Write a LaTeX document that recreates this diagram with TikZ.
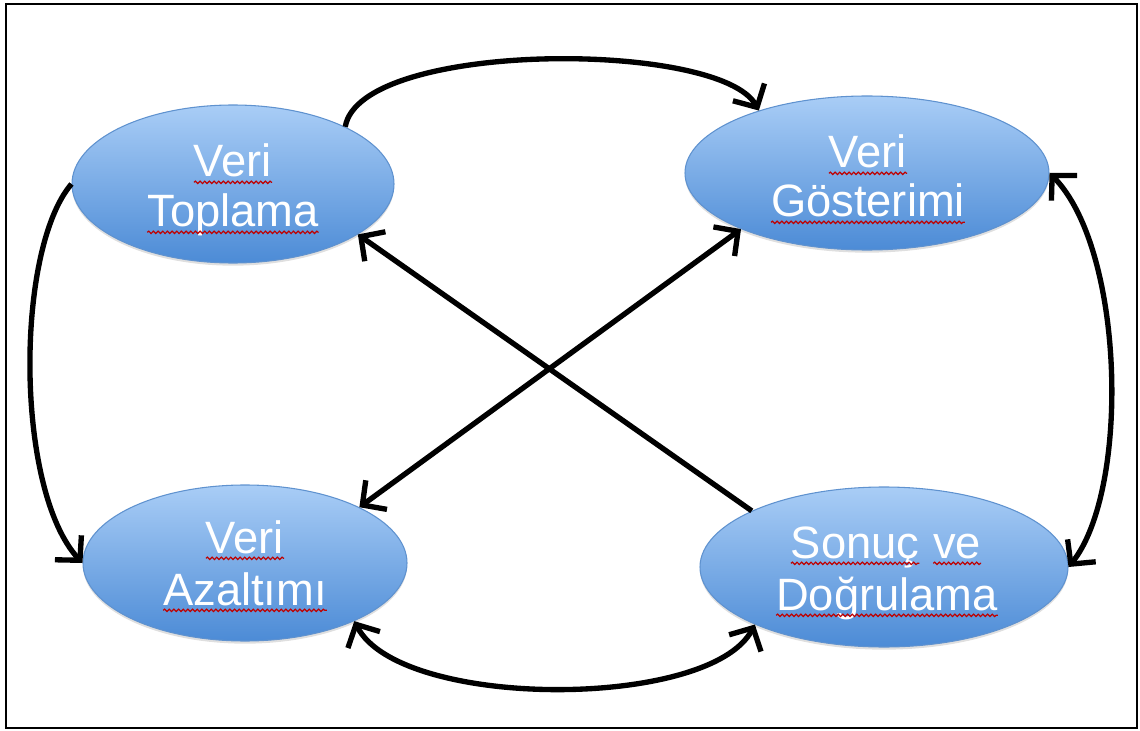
\documentclass[tikz,border=0pt]{standalone}
\usepackage{fontspec}
\setmainfont{Liberation Sans}
\usetikzlibrary{arrows.meta,shapes.geometric,decorations.pathmorphing,shadows}
\definecolor{ellTop}{HTML}{A9CDF6}
\definecolor{ellBot}{HTML}{4C8BD6}
\definecolor{ellLine}{HTML}{5F92CF}
\newcommand\sqw[1]{\tikz[baseline=(w.base)]{\node[inner sep=0pt,outer sep=0pt,text=white](w){#1};\draw[red!75!black,line width=0.9pt,decorate,decoration={snake,amplitude=0.9pt,segment length=3.5pt}]([yshift=-4pt]w.base west)--([yshift=-4pt]w.base east);}}
\tikzset{
  ell/.style={ellipse,draw=ellLine,line width=0.8pt,top color=ellTop,bottom color=ellBot,inner sep=0pt,
    drop shadow={shadow xshift=0pt,shadow yshift=-2pt,opacity=0.25,fill=black!50}},
  lbl/.style={anchor=base,inner sep=0pt,text=white,font=\fontsize{34}{40}\selectfont},
  conn/.style={line width=4pt,black},
  >={Straight Barb[length=13pt,width=27pt]}
}
\begin{document}
\begin{tikzpicture}[x=0.75pt,y=-0.75pt]
\useasboundingbox (0,0) rectangle (1140,731);
\draw[line width=1.5pt] (6,4) rectangle (1137,728);
% ellipses
\node[ell,minimum width=241.5pt,minimum height=118.5pt] (T) at (233,184) {};
\node[ell,minimum width=273pt,minimum height=115.5pt] (G) at (867,173) {};
\node[ell,minimum width=243pt,minimum height=117pt] (A) at (245,563) {};
\node[ell,minimum width=276pt,minimum height=120pt] (S) at (884,567) {};
% labels
\node[lbl] (T1) at (233,177) {\sqw{Veri}};
\node[lbl] (T2) at (233,227) {\sqw{Toplama}};
\node[lbl] (G1) at (868,168) {\sqw{Veri}};
\node[lbl] (G2) at (868,217) {\sqw{Gösterimi}};
\node[lbl] (A1) at (245,553) {\sqw{Veri}};
\node[lbl] (A2) at (245,605) {\sqw{Azaltımı}};
\node[lbl] (S1) at (886,558) {\sqw{Sonuç} \sqw{ve}};
\node[lbl] (S2) at (887,610) {\sqw{Doğrulama}};
% connectors
\draw[conn,->] (T.27) .. controls (360,40) and (720,40) .. (G.150);
\draw[conn,->] (T.180) .. controls (15,250) and (15,490) .. (A.180);
\draw[conn,<->] (S.0) .. controls (1130,490) and (1125,250) .. (G.0);
\draw[conn,<->] (A.-28) .. controls (400,710) and (710,710) .. (S.-156);
\draw[conn,->] (S.157) -- (T.-22);
\draw[conn,<->] (A.26) -- (G.-156);
\end{tikzpicture}
\end{document}
